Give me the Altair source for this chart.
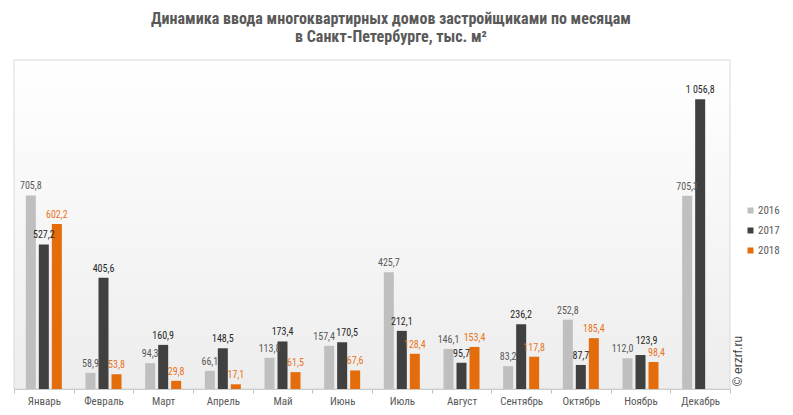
import altair as alt
import pandas as pd

months = ["Январь", "Февраль", "Март", "Апрель", "Май", "Июнь", "Июль",
          "Август", "Сентябрь", "Октябрь", "Ноябрь", "Декабрь"]
years = ["2016", "2017", "2018"]
v2016 = [705.8, 58.9, 94.3, 66.1, 113.8, 157.4, 425.7, 146.1, 83.2, 252.8, 112.0, 705.3]
v2017 = [527.2, 405.6, 160.9, 148.5, 173.4, 170.5, 212.1, 95.7, 236.2, 87.7, 123.9, 1056.8]
v2018 = [602.2, 53.8, 29.8, 17.1, 61.5, 67.6, 128.4, 153.4, 117.8, 185.4, 98.4, None]

def fmt(v):
    return f"{v:,.1f}".replace(",", " ").replace(".", ",")

rows = []
for y, vals in zip(years, [v2016, v2017, v2018]):
    for m, v in zip(months, vals):
        if v is not None:
            rows.append({"month": m, "year": y, "value": v, "label": fmt(v)})
df = pd.DataFrame(rows)

W, H = 716, 329
bar_colors = ["#bfbfbf", "#404040", "#e46c0a"]
label_colors = ["#595959", "#262626", "#e8731a"]
NARROW = "Roboto Condensed, DejaVu Sans Condensed, sans-serif"
FONT = "Liberation Sans, Arial, sans-serif"

x_enc = alt.X("month:N", sort=months, scale=alt.Scale(paddingInner=0, paddingOuter=0),
              axis=alt.Axis(title=None, labelAngle=0, tickBand="extent", tickSize=4,
                            tickColor="#bfbfbf", domainColor="#bfbfbf", labelColor="#595959",
                            labelFontSize=11, labelFont=NARROW, labelPadding=2))
xo_enc = alt.XOffset("year:N", scale=alt.Scale(domain=years, paddingInner=0.23, paddingOuter=0.91))
y_enc = alt.Y("value:Q", scale=alt.Scale(domain=[0, 1200]), axis=None)

bg = alt.Chart(pd.DataFrame({"a": [0]})).mark_rect(
    color=alt.Gradient(gradient="linear", x1=0, y1=0, x2=0, y2=1,
                       stops=[alt.GradientStop(color="#ffffff", offset=0),
                              alt.GradientStop(color="#ededed", offset=1)]),
    stroke="#d9d9d9", strokeWidth=1
).encode(x=alt.value(0), x2=alt.value(W), y=alt.value(0), y2=alt.value(H))

bars = alt.Chart(df).mark_bar(size=10).encode(
    x=x_enc, xOffset=xo_enc, y=y_enc,
    color=alt.Color("year:N", scale=alt.Scale(domain=years, range=bar_colors),
                    legend=alt.Legend(title=None, orient="none", legendX=731, legendY=145,
                                      symbolType="square", symbolSize=36, symbolStrokeWidth=0,
                                      labelFontSize=11, labelColor="#595959", labelFont=NARROW,
                                      rowPadding=8, padding=0, labelOffset=2))
)

lab_enc = dict(
    x=alt.X("month:N", sort=months), xOffset=alt.XOffset("year:N"), y="value:Q",
    text="label:N",
    color=alt.Color("year:N", scale=alt.Scale(domain=years, range=label_colors), legend=None)
)

# label nudges (month, year) -> (dx, dy), mimicking the reference's label placement
nudges = {("Июнь", "2016"): (-5, -4), ("Июнь", "2017"): (5, -4),
          ("Ноябрь", "2016"): (-5, -4), ("Ноябрь", "2017"): (6, -9),
          ("Ноябрь", "2018"): (3, -4)}

def is_key(m, y):
    return (alt.datum.month == m) & (alt.datum.year == y)

base_filter = None
for (m, y) in nudges:
    cond = is_key(m, y)
    base_filter = cond if base_filter is None else (base_filter | cond)

label_layers = [alt.Chart(df).mark_text(baseline="bottom", dy=-4, fontSize=10, font=NARROW)
                .encode(**lab_enc).transform_filter(~base_filter)]
for (m, y), (dx, dy) in nudges.items():
    label_layers.append(
        alt.Chart(df).mark_text(baseline="bottom", dx=dx, dy=dy, fontSize=10, font=NARROW)
        .encode(**lab_enc).transform_filter(is_key(m, y)))

wm = alt.Chart(pd.DataFrame({"t": ["© erzrf.ru"]})).mark_text(
    angle=270, align="center", baseline="middle", fontSize=12, color="#404040", font=FONT
).encode(x=alt.value(724), y=alt.value(301), text="t:N")

chart = alt.layer(bg, bars, *label_layers, wm).resolve_scale(color="independent").properties(
    width=W, height=H,
    title=alt.TitleParams(
        ["Динамика ввода многоквартирных домов застройщиками по месяцам",
         "в Санкт-Петербурге, тыс. м²"],
        font="Roboto Condensed, Liberation Sans Narrow, DejaVu Sans Condensed, Roboto",
        fontSize=16, fontWeight="bold", color="#595959", lineHeight=18,
        anchor="middle", dx=19, offset=15),
    autosize=alt.AutoSizeParams(type="none"),
    padding={"left": 6, "top": 52, "right": 55, "bottom": 18}
).configure_view(stroke=None)

chart.save("out.html", embed_options={"renderer": "svg", "actions": False})
